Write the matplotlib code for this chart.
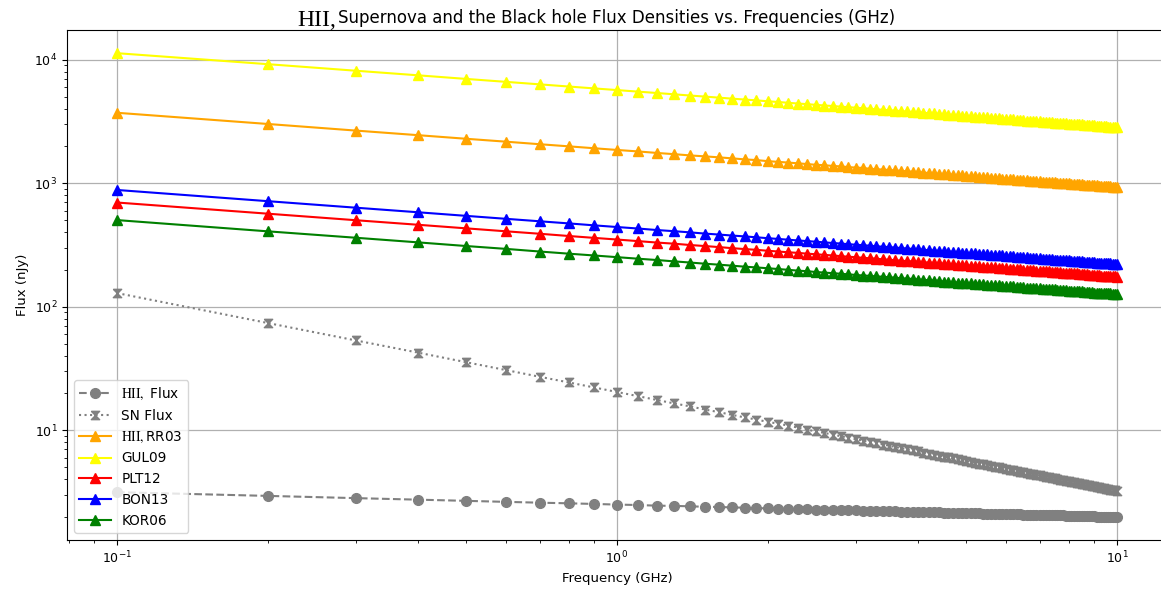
import numpy as np
import matplotlib
matplotlib.use("Agg")
from matplotlib import pyplot as plt

plt.rcParams['mathtext.fontset'] = 'stix'

# frequencies in GHz
freq = [0.1, 0.2, 0.3, 0.4, 0.5, 0.6, 0.7, 0.8, 0.9, 1.0,
        1.1, 1.2, 1.3, 1.4, 1.5, 1.6, 1.7, 1.8, 1.9, 2.0,
        2.1, 2.2, 2.3, 2.4, 2.5, 2.6, 2.7, 2.8, 2.9, 3.0,
        3.1, 3.2, 3.3, 3.4, 3.5, 3.6, 3.7, 3.8, 3.9, 4.0,
        4.1, 4.2, 4.3, 4.4, 4.5, 4.6, 4.7, 4.8, 4.9, 5.0,
        5.1, 5.2, 5.3, 5.4, 5.5, 5.6, 5.7, 5.8, 5.9, 6.0,
        6.1, 6.2, 6.3, 6.4, 6.5, 6.6, 6.7, 6.8, 6.9, 7.0,
        7.1, 7.2, 7.3, 7.4, 7.5, 7.6, 7.7, 7.8, 7.9, 8.0,
        8.1, 8.2, 8.3, 8.4, 8.5, 8.6, 8.7, 8.8, 8.9, 9.0,
        9.1, 9.2, 9.3, 9.4, 9.5, 9.6, 9.7, 9.8, 9.9, 10.0]

hii_flux = [3.15, 2.94, 2.82, 2.74, 2.68, 2.63, 2.59, 2.56, 2.53, 2.5,
            2.48, 2.45, 2.44, 2.42, 2.4, 2.39, 2.37, 2.36, 2.34, 2.33,
            2.32, 2.31, 2.3, 2.29, 2.28, 2.27, 2.26, 2.26, 2.25, 2.24,
            2.23, 2.23, 2.22, 2.21, 2.21, 2.2, 2.19, 2.19, 2.18, 2.18,
            2.17, 2.17, 2.16, 2.16, 2.15, 2.15, 2.14, 2.14, 2.13, 2.13,
            2.12, 2.12, 2.12, 2.11, 2.11, 2.1, 2.1, 2.1, 2.09, 2.09,
            2.09, 2.08, 2.08, 2.08, 2.07, 2.07, 2.07, 2.06, 2.06, 2.06,
            2.06, 2.05, 2.05, 2.05, 2.04, 2.04, 2.04, 2.04, 2.03, 2.03,
            2.03, 2.03, 2.02, 2.02, 2.02, 2.02, 2.01, 2.01, 2.01, 2.01,
            2, 2, 2, 2, 2, 1.99, 1.99, 1.99, 1.99, 1.99]

sn_flux = [129, 73.9, 53.4, 42.5, 35.5, 30.7, 27.1, 24.4, 22.2, 20.4,
           18.9, 17.6, 16.5, 15.6, 14.7, 14, 13.3, 12.7, 12.2, 11.7,
           11.3, 10.9, 10.5, 10.1, 9.8, 9.5, 9.22, 8.95, 8.7, 8.47,
           8.25, 8.04, 7.85, 7.66, 7.49, 7.32, 7.16, 7.01, 6.87, 6.73,
           6.6, 6.47, 6.35, 6.24, 6.12, 6.02, 5.91, 5.82, 5.72, 5.63,
           5.54, 5.46, 5.37, 5.29, 5.22, 5.14, 5.07, 5, 4.93, 4.87,
           4.8, 4.74, 4.68, 4.62, 4.56, 4.51, 4.45, 4.4, 4.35, 4.3,
           4.25, 4.2, 4.16, 4.11, 4.07, 4.03, 3.99, 3.94, 3.9, 3.87,
           3.83, 3.79, 3.75, 3.72, 3.68, 3.65, 3.61, 3.58, 3.55, 3.52,
           3.49, 3.46, 3.43, 3.4, 3.37, 3.34, 3.31, 3.29, 3.26, 3.23]

orr03 = [3720, 3020, 2670, 2450, 2290, 2170, 2070, 1990, 1920, 1860,
         1810, 1760, 1720, 1680, 1650, 1620, 1590, 1560, 1540, 1510,
         1490, 1470, 1450, 1430, 1410, 1400, 1380, 1370, 1350, 1340,
         1330, 1310, 1300, 1290, 1280, 1270, 1260, 1250, 1240, 1230,
         1220, 1210, 1200, 1190, 1190, 1180, 1170, 1160, 1160, 1150,
         1140, 1140, 1130, 1120, 1120, 1110, 1100, 1100, 1090, 1090,
         1080, 1080, 1070, 1070, 1060, 1060, 1050, 1050, 1040, 1040,
         1030, 1030, 1030, 1020, 1020, 1010, 1010, 1010, 1000, 998,
         994, 990, 987, 983, 980, 976, 973, 970, 966, 963,
         960, 957, 954, 951, 948, 945, 942, 939, 936, 933]

gul09 = [11300, 9210, 8150, 7480, 6990, 6620, 6320, 6070, 5860, 5680,
         5520, 5380, 5250, 5130, 5030, 4930, 4840, 4760, 4690, 4610,
         4550, 4480, 4420, 4370, 4310, 4260, 4220, 4170, 4130, 4090,
         4050, 4010, 3970, 3930, 3900, 3870, 3840, 3810, 3780, 3750,
         3720, 3690, 3670, 3640, 3620, 3590, 3570, 3550, 3530, 3500,
         3480, 3460, 3440, 3420, 3410, 3390, 3370, 3350, 3330, 3320,
         3300, 3290, 3270, 3250, 3240, 3220, 3210, 3200, 3180, 3170,
         3150, 3140, 3130, 3120, 3100, 3090, 3080, 3070, 3060, 3040,
         3030, 3020, 3010, 3000, 2990, 2980, 2970, 2960, 2950, 2940,
         2930, 2920, 2910, 2900, 2890, 2880, 2870, 2860, 2860, 2850]

plt12 = [698, 567, 502, 461, 431, 408, 390, 374, 361, 350,
         340, 331, 324, 316, 310, 304, 298, 293, 289, 284,
         280, 276, 273, 269, 266, 263, 260, 257, 254, 252,
         249, 247, 245, 242, 240, 238, 236, 234, 233, 231,
         229, 228, 226, 224, 223, 221, 220, 219, 217, 216,
         215, 213, 212, 211, 210, 209, 208, 207, 206, 204,
         203, 202, 201, 201, 200, 199, 198, 197, 196, 195,
         194, 194, 193, 192, 191, 190, 190, 189, 188, 188,
         187, 186, 186, 185, 184, 184, 183, 182, 182, 181,
         180, 180, 179, 179, 178, 178, 177, 176, 176, 175]

bon13 = [882, 716, 634, 582, 544, 515, 492, 473, 456, 442,
         430, 418, 409, 400, 391, 384, 377, 371, 365, 359,
         354, 349, 344, 340, 336, 332, 328, 325, 321, 318,
         315, 312, 309, 306, 304, 301, 299, 296, 294, 292,
         289, 287, 285, 283, 281, 280, 278, 276, 274, 273,
         271, 270, 268, 267, 265, 264, 262, 261, 260, 258,
         257, 256, 254, 253, 252, 251, 250, 249, 248, 247,
         245, 244, 243, 242, 241, 241, 240, 239, 238, 237,
         236, 235, 234, 233, 233, 232, 231, 230, 229, 229,
         228, 227, 226, 226, 225, 224, 224, 223, 222, 222]

kor06 = [503, 408, 362, 332, 310, 294, 280, 269, 260, 252,
         245, 239, 233, 228, 223, 219, 215, 211, 208, 205,
         202, 199, 196, 194, 191, 189, 187, 185, 183, 181,
         179, 178, 176, 175, 173, 172, 170, 169, 168, 166,
         165, 164, 163, 162, 160, 159, 158, 157, 156, 155,
         155, 154, 153, 152, 151, 150, 149, 149, 148, 147,
         146, 146, 145, 144, 144, 143, 142, 142, 141, 141,
         140, 139, 139, 138, 138, 137, 137, 136, 136, 135,
         135, 134, 134, 133, 133, 132, 132, 131, 131, 130,
         130, 130, 129, 129, 129, 128, 128, 127, 127, 126]

HII = r'$\mathrm{HII,}$'
hourglass = [(-1, 1), (1, 1), (-1, -1), (1, -1), (-1, 1)]

fig = plt.figure(figsize=(11.61, 5.9), dpi=100)
ax = fig.add_axes([67 / 1161, 50 / 590, 1100 / 1161, 510 / 590])

ax.plot(freq, hii_flux, '--o', color='gray', markersize=7, label=HII + ' Flux')
ax.plot(freq, sn_flux, ':', marker=hourglass, color='gray', markersize=6, label='SN Flux')
ax.plot(freq, orr03, '-^', color='orange', markersize=7, label=HII + 'RR03')
ax.plot(freq, gul09, '-^', color='yellow', markersize=7, label='GUL09')
ax.plot(freq, plt12, '-^', color='red', markersize=7, label='PLT12')
ax.plot(freq, bon13, '-^', color='blue', markersize=7, label='BON13')
ax.plot(freq, kor06, '-^', color='green', markersize=7, label='KOR06')

ax.set_xscale('log')
ax.set_yscale('log')
ax.grid(True, which='major', color='#b0b0b0', linewidth=0.9)
ax.tick_params(labelsize=9)
ax.set_xlabel('Frequency (GHz)', fontsize=9.5)
ax.set_ylabel('Flux (nJy)', fontsize=9.5)
ax.legend(loc='lower left', fontsize=9.8, handlelength=2.3)

# title: serif "HII," followed by the rest in sans
fig.text(297 / 1161, 1 - 26 / 590, 'HII,', family='Liberation Serif', fontsize=17, va='baseline')
fig.text(338 / 1161, 1 - 23 / 590, 'Supernova and the Black hole Flux Densities vs. Frequencies (GHz)',
         fontsize=12, va='baseline')

fig.savefig('out.png', dpi=100)
